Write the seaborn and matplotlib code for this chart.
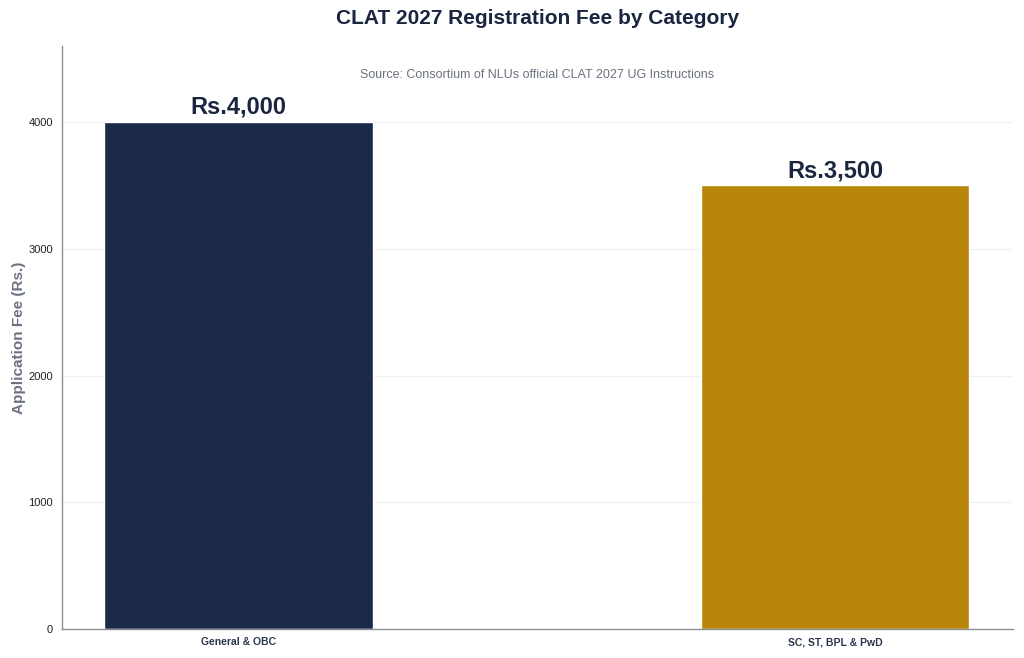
import matplotlib
matplotlib.use("Agg")
import matplotlib.pyplot as plt
import seaborn as sns
import pandas as pd

categories = ["General & OBC", "SC, ST, BPL & PwD"]
fees = [4000, 3500]
labels = ["Rs.4,000", "Rs.3,500"]
colors = ["#1c2a4a", "#b8860b"]

sns.set_theme(style="white")
plt.rcParams['font.family'] = ['Liberation Sans', 'DejaVu Sans']

df = pd.DataFrame({"Category": categories, "Fee": fees})

fig = plt.figure(figsize=(10.24, 6.58), dpi=100)
ax = fig.add_axes([62/1024, 1 - 629/658, (1013-62)/1024, (629-46)/658])

sns.barplot(data=df, x="Category", y="Fee", hue="Category", palette=colors,
            width=0.45, legend=False, ax=ax, saturation=1)

ax.set_ylim(0, 4600)
ax.set_xlim(-0.296, 1.298)
ax.set_yticks([0, 1000, 2000, 3000, 4000])
ax.yaxis.grid(True, color="#eef0f3", linewidth=0.8)
ax.set_axisbelow(True)

for spine in ["top", "right"]:
    ax.spines[spine].set_visible(False)
for spine in ["left", "bottom"]:
    ax.spines[spine].set_color("#8a8f99")
    ax.spines[spine].set_linewidth(1.0)

ax.tick_params(axis="both", which="both", length=4, color="#8a8f99", width=0.8, pad=2.5)
ax.tick_params(axis="y", labelsize=8, labelcolor="#222222")
ax.tick_params(axis="x", labelsize=7.5, labelcolor="#2c3650", pad=2)
for t in ax.get_xticklabels():
    t.set_fontweight("bold")

ax.set_xlabel("")
ax.set_ylabel("Application Fee (Rs.)", fontsize=11, fontweight="bold", color="#6b7280")
ax.yaxis.set_label_coords(-0.038, 0.5)

for i, (v, lab) in enumerate(zip(fees, labels)):
    ax.text(i, v + 25, lab, ha="center", va="bottom", fontsize=17,
            fontweight="bold", color="#1a2540")

ax.text(0.5, 0.95, "Source: Consortium of NLUs official CLAT 2027 UG Instructions",
        transform=ax.transAxes, ha="center", va="center", fontsize=9, color="#6b7280")

fig.suptitle("CLAT 2027 Registration Fee by Category", x=0.525, y=1 - 19/658,
             va="center", fontsize=15, fontweight="bold", color="#1a2540")

fig.savefig("out.png", dpi=100)
